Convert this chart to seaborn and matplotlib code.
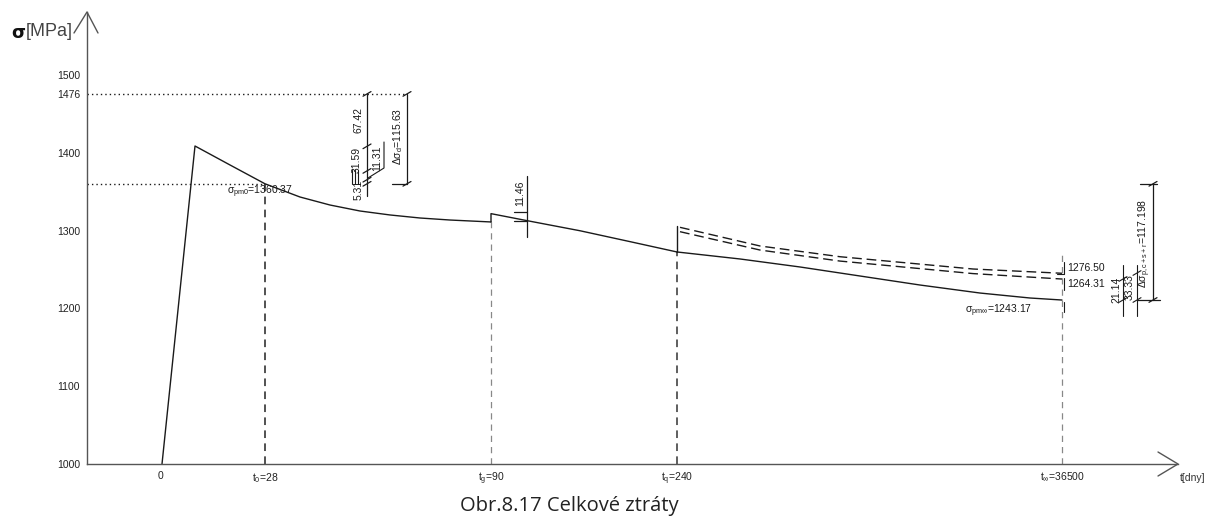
import numpy as np
import pandas as pd
import matplotlib
matplotlib.use('Agg')
import matplotlib.pyplot as plt
import seaborn as sns

# ---- data (x = schematic drawing position) ----
t_pos = [160, 265, 491, 677, 1062]
t_labels = ['0', r'$\mathregular{t_0}$=28', r'$\mathregular{t_g}$=90',
            r'$\mathregular{t_q}$=240', r'$\mathregular{t_{\infty}}$=36500']
y_ticks = [1000, 1100, 1200, 1300, 1400, 1476, 1500]

# prestress loss curve, stage 1 (tensioning + losses up to t_g)
seg1_x = [162, 195, 230, 265, 300, 330, 360, 390, 420, 450, 491]
seg1_y = [1000, 1409, 1384.6, 1360.4, 1343.4, 1333.1, 1325.4, 1320.3, 1316.4, 1313.8, 1311.3]
# stage 2 (t_g .. t_q)
seg2_x = [491, 491, 527, 580, 630, 677]
seg2_y = [1311.3, 1322, 1313, 1300, 1286, 1272.7]
# stage 3 (t_q .. t_inf)
seg3_x = [677, 740, 800, 860, 920, 980, 1030, 1062]
seg3_y = [1272.7, 1263.7, 1253.4, 1241.8, 1230.2, 1219.9, 1213.5, 1210.9]
jump_x = [677, 677]
jump_y = [1272.7, 1306]
# dashed variants after t_q
dash1_x = [680, 760, 840, 973, 1062]
dash1_y = [1304.4, 1280.4, 1266.6, 1250.8, 1245.3]
dash2_x = [680, 760, 840, 973, 1062]
dash2_y = [1298.8, 1275.2, 1261.0, 1244.9, 1237.9]

# vertical markers at the times
vl_top = [None, 1360.4, 1311.3, 1272.7, 1272.7]

# dimension chain at t0 (values in MPa)
chain_levels = [1476, 1408.58, 1376.99, 1365.68, 1360.37]

px = 0.7775  # drawing px per MPa
y_top = 1000 + (464 - 12) / px


def lv(ypix):
    # drawing pixel row -> MPa level on the axis
    return 1000 + (464 - ypix) / px


W, H = 1205, 517
sns.set_theme(style='white')
plt.rcParams['font.family'] = ['Liberation Sans', 'DejaVu Sans']
plt.rcParams['mathtext.fontset'] = 'custom'
plt.rcParams['mathtext.rm'] = 'Liberation Sans'
plt.rcParams['mathtext.it'] = 'Liberation Sans:italic'
plt.rcParams['mathtext.bf'] = 'Liberation Sans:bold'
plt.rcParams['mathtext.fallback'] = 'stixsans'

fig = plt.figure(figsize=(W / 100, H / 100), dpi=100)
ax = fig.add_axes([87 / W, 53 / H, (1178 - 87) / W, (464 - 12) / H])
ax.set_xlim(87, 1178)
ax.set_ylim(1000, y_top)

ink = '#1a1a1a'
axc = '#555555'

# axes
for s in ['top', 'right']:
    ax.spines[s].set_visible(False)
for s in ['left', 'bottom']:
    ax.spines[s].set_color(axc)
    ax.spines[s].set_linewidth(1.0)
ax.plot([74, 87, 98], [lv(33), y_top, lv(33)], color=axc, lw=1, clip_on=False)
ax.plot([1158, 1178, 1158], [lv(452), 1000, lv(476)], color=axc, lw=1, clip_on=False)

ax.set_yticks(y_ticks)
ax.set_yticklabels([str(v) for v in y_ticks])
ax.set_xticks(t_pos)
ax.set_xticklabels(t_labels)
ax.tick_params(axis='both', length=0, labelsize=7.5, colors='#222222')
ax.tick_params(axis='y', pad=5)
ax.tick_params(axis='x', pad=5)

# dotted reference levels
ax.plot([87, 407], [1476, 1476], color=ink, lw=1, ls=(0, (1, 2.2)))
ax.plot([87, 265], [1360.37, 1360.37], color=ink, lw=1, ls=(0, (1, 2.2)))

# vertical time lines
ax.plot([265, 265], [1000, vl_top[1]], color='#222222', lw=1.1, dashes=(5, 3.5))
ax.plot([491, 491], [1000, vl_top[2]], color='#888888', lw=0.9, dashes=(5, 4))
ax.plot([677, 677], [1000, vl_top[3]], color='#333333', lw=1.1, dashes=(5, 3.5))
ax.plot([1062, 1062], [1000, vl_top[4]], color='#888888', lw=0.9, dashes=(5, 4))

# curves
for xs, ys in [(seg1_x, seg1_y), (seg2_x, seg2_y), (seg3_x, seg3_y), (jump_x, jump_y)]:
    sns.lineplot(x=xs, y=ys, ax=ax, color=ink, lw=1.0, sort=False, estimator=None)
for xs, ys in [(dash1_x, dash1_y), (dash2_x, dash2_y)]:
    sns.lineplot(x=xs, y=ys, ax=ax, color=ink, lw=1.0, sort=False, estimator=None)
    ax.lines[-1].set_dashes((7, 3.5))

ax.set_xlabel('')
ax.set_ylabel('')

fs = 7.5
# label at t0
ax.text(227, lv(192), r'$\mathregular{\sigma_{pm0}}$=1360.37',
        fontsize=fs, ha='left', va='center', color=ink)

# dimension chain at t0
ax.plot([367, 367], [1476, lv(196)], color=ink, lw=0.9)
for c in chain_levels:
    ax.plot([363, 371], [c - 3, c + 3], color=ink, lw=0.9)
ax.text(358, lv(120), '67.42', rotation=90, fontsize=fs, ha='center', va='center', color=ink)
ax.text(357, lv(160), '31.59', rotation=90, fontsize=fs, ha='center', va='center', color=ink)
ax.text(377, lv(158), '11.31', rotation=90, fontsize=fs, ha='center', va='center', color=ink)
ax.plot([384, 384, 368], [lv(142), lv(168), lv(178)], color=ink, lw=0.8)
ax.text(359, lv(190), '5.31', rotation=90, fontsize=fs, ha='center', va='center', color=ink)
for xx in [352, 355, 358]:
    ax.plot([xx, xx], [lv(170), lv(184)], color=ink, lw=0.8)
ax.plot([407, 407], [1476, 1360.37], color=ink, lw=0.9)
ax.plot([392, 407], [1360.37, 1360.37], color=ink, lw=0.9)
for c in [1476, 1360.37]:
    ax.plot([403, 411], [c - 3, c + 3], color=ink, lw=0.9)
ax.text(398, lv(136), r'$\mathregular{\Delta\sigma_d}$=115.63', rotation=90,
        fontsize=fs, ha='center', va='center', color=ink)

# dimension at t_g
ax.plot([527, 527], [lv(176), lv(237)], color=ink, lw=0.9)
for yy in [212, 221]:
    ax.plot([514, 527], [lv(yy)] * 2, color=ink, lw=0.9)
ax.text(520, lv(193), '11.46', rotation=90, fontsize=fs, ha='center', va='center', color=ink)

# labels at t_inf
ax.text(1032, lv(311), r'$\mathregular{\sigma_{pm\infty}}$=1243.17',
        fontsize=fs, ha='right', va='center', color=ink)
ax.text(1067, lv(268), '1276.50', fontsize=fs, ha='left', va='center', color=ink)
ax.text(1067, lv(284), '1264.31', fontsize=fs, ha='left', va='center', color=ink)
ax.plot([1057, 1064, 1064], [lv(274), lv(274), lv(262)], color=ink, lw=0.8)
ax.plot([1064, 1064], [lv(278), lv(290)], color=ink, lw=0.8)
ax.plot([1064, 1064], [lv(302), lv(312)], color=ink, lw=0.8)

# right dimension group
lv_a = lv(300)
ax.plot([1123, 1123], [lv(265), lv(316)], color=ink, lw=0.8)
ax.plot([1137, 1137], [lv(265), lv(316)], color=ink, lw=0.8)
for xx, yy in [(1123, 279), (1123, 300), (1137, 273), (1137, 300)]:
    ax.plot([xx - 4, xx + 4], [lv(yy) - 3, lv(yy) + 3], color=ink, lw=0.8)
ax.text(1116, lv(290), '21.14', rotation=90, fontsize=fs, ha='center', va='center', color=ink)
ax.text(1130, lv(287), '33.33', rotation=90, fontsize=fs, ha='center', va='center', color=ink)
ax.plot([1153, 1153], [1360.37, lv_a], color=ink, lw=0.9)
ax.plot([1140, 1157], [1360.37, 1360.37], color=ink, lw=0.9)
ax.plot([1137, 1160], [lv_a, lv_a], color=ink, lw=0.9)
for c in [1360.37, lv_a]:
    ax.plot([1149, 1157], [c - 3, c + 3], color=ink, lw=0.9)
ax.text(1145, lv(243), r'$\mathregular{\Delta\sigma_{p,c+s+r}}$=117.198', rotation=90,
        fontsize=fs, ha='center', va='center', color=ink)

# axis titles
fig.text(11 / W, 1 - 33 / H, 'σ', fontsize=13, fontweight='bold', family='DejaVu Sans',
         ha='left', va='center', color='#111111')
fig.text(26 / W, 1 - 32 / H, '[MPa]', fontsize=13, ha='left', va='center', color='#444444')
fig.text(1180 / W, 1 - 478 / H, 't[dny]', fontsize=7.5, ha='left', va='center', color='#333333')

# caption
fig.text(569 / W, 1 - 506 / H, 'Obr.8.17 Celkové ztráty', fontsize=14.5, family='Open Sans',
         ha='center', va='center', color='#222222')

fig.savefig('out.png', dpi=100)
